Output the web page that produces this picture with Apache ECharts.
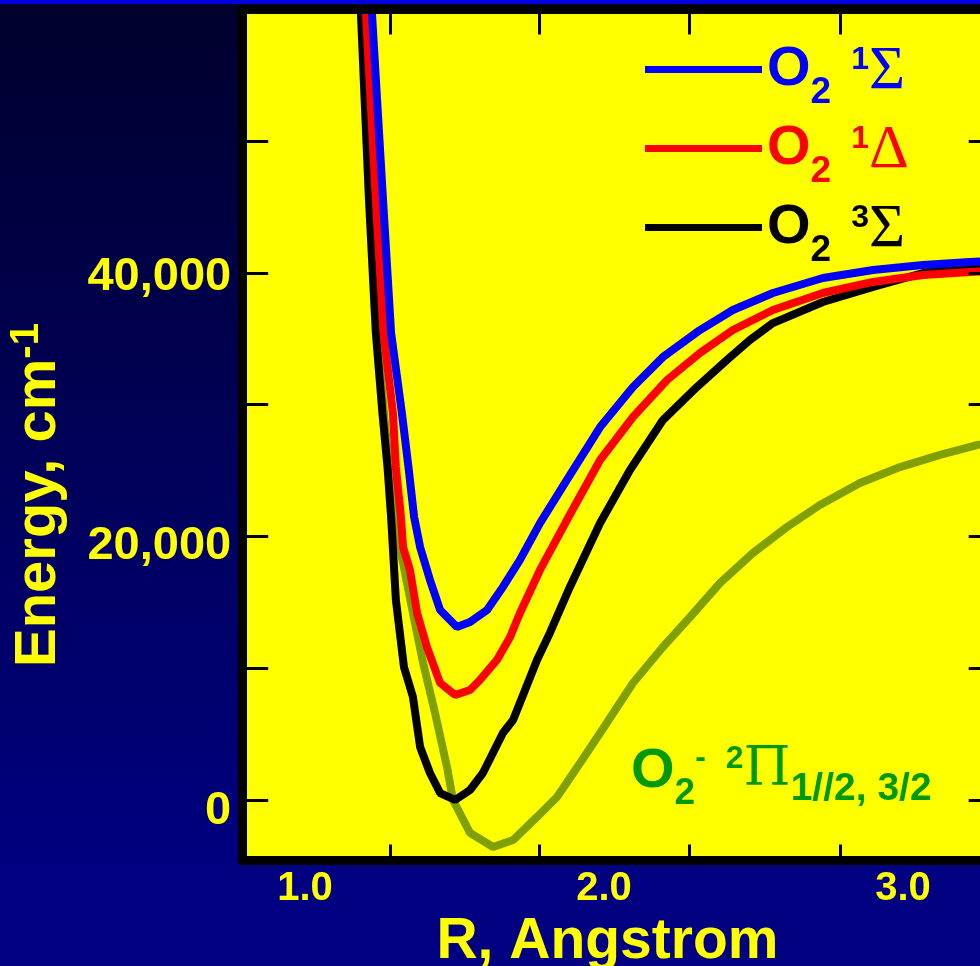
<!DOCTYPE html>
<html><head><meta charset="utf-8">
<script src="https://cdn.jsdelivr.net/npm/echarts@6/dist/echarts.min.js"></script>
<style>html,body{margin:0;padding:0;background:#000050;}#c{width:980px;height:966px;}</style>
</head><body><div id="c"></div>
<script>
const R_SIGMA1 = [1.219,1.224,1.261,1.288,1.324,1.346,1.365,1.385,1.418,1.452,1.508,1.552,1.609,1.662,1.719,1.786,1.876,1.987,2.097,2.197,2.321,2.431,2.565,2.732,2.900,3.067,3.224,3.300];
const E_SIGMA1 = [62000,59700,45540,35450,29370,25270,21480,19200,16700,14420,13130,13510,14420,16170,18220,21020,24290,28310,31350,33620,35670,37190,38480,39620,40230,40610,40830,40910];

const R_DELTA1 = [1.199,1.204,1.237,1.263,1.294,1.304,1.321,1.328,1.351,1.375,1.408,1.452,1.502,1.552,1.585,1.642,1.686,1.719,1.786,1.876,1.987,2.097,2.211,2.321,2.431,2.565,2.732,2.900,3.067,3.224,3.300];
const E_DELTA1 = [62000,59700,45540,35450,29370,25270,21480,19200,17460,14190,11610,8880,7970,8350,9110,10630,12370,14190,17460,21250,25810,29070,31880,33930,35670,37190,38480,39320,39850,40080,40150];

const R_SIGMA3 = [1.183,1.187,1.214,1.237,1.259,1.276,1.288,1.304,1.331,1.361,1.385,1.418,1.452,1.502,1.552,1.595,1.662,1.696,1.776,1.819,1.886,1.987,2.087,2.197,2.311,2.411,2.488,2.565,2.732,2.900,3.067,3.181,3.300];
const E_SIGMA3 = [62000,59700,45540,35450,29370,25270,21480,15180,10090,7820,4020,2050,530,0,760,2050,5090,6070,10630,12680,16170,21020,25050,28840,31350,33400,34910,36200,37800,38940,40000,40380,40550];

const R_ANION = [1.185,1.191,1.217,1.241,1.264,1.281,1.297,1.328,1.361,1.395,1.435,1.475,1.495,1.552,1.629,1.696,1.776,1.843,1.920,1.987,2.097,2.197,2.288,2.388,2.498,2.612,2.722,2.856,2.990,3.124,3.247,3.300];
const E_ANION = [62000,59700,45540,35450,29370,25270,21480,17990,14190,10400,6600,2500,0,-2500,-3570,-3040,-1290,230,2810,5090,8880,11610,13890,16470,18750,20720,22390,24060,25270,26190,26940,27170];

const X_LABELS = [1, 2, 3];
const X_TICKS = [1.285, 1.785, 2.285, 2.79];
const Y_LABELS = [0, 20000, 40000];
const Y_TICKS = [0, 10000, 20000, 30000, 40000, 50000];
const SERIES_NAMES = ['O2 1Σ', 'O2 1Δ', 'O2 3Σ', 'O2- 2Π'];

// ---- styling ----
const SANS = 'Liberation Sans, Arial, sans-serif';
const SERIF = 'Liberation Serif, Times New Roman, serif';
const WSERIF = 'DejaVu Serif, Liberation Serif, serif';
const YEL = '#FFFF00';
const COLORS = {'O2 1Σ':'#0000FF','O2 1Δ':'#FF0000','O2 3Σ':'#000000','O2- 2Π':'#80A000'};
const LABEL_GREEN = '#009900';

function pairs(xs, ys){ return xs.map((x,i)=>[x, ys[i]]); }

function legendRich(key, color){
  const r = {};
  r['o'+key]   = {color, fontFamily:SANS, fontWeight:'bold', fontSize:56, lineHeight:56};
  r['sub'+key] = {color, fontFamily:SANS, fontWeight:'bold', fontSize:37, lineHeight:37, padding:[46,0,0,0]};
  r['sup'+key] = {color, fontFamily:SANS, fontWeight:'bold', fontSize:32, lineHeight:32, padding:[0,0,18,0]};
  r['sym'+key] = {color, fontFamily:SERIF, fontWeight:'normal', fontSize:62, lineHeight:56, padding:[4,0,0,0]};
  r['sp'+key]  = {color, fontFamily:SANS, fontWeight:'bold', fontSize:56, lineHeight:56, width:20};
  return r;
}
const LEGEND_TEXT = {
  'O2 1Σ': '{oB|O}{subB|2}{spB| }{supB|1}{symB|Σ}',
  'O2 1Δ': '{oR|O}{subR|2}{spR| }{supR|1}{symR|Δ}',
  'O2 3Σ': '{oK|O}{subK|2}{spK| }{supK|3}{symK|Σ}'
};
const legendRichAll = Object.assign({}, legendRich('B','#0000FF'), legendRich('R','#FF0000'), legendRich('K','#000000'));

const yLabelRich = {
  y0:     {color:YEL, fontFamily:SANS, fontWeight:'bold', fontSize:47, padding:[22,0,0,0]},
  y20000: {color:YEL, fontFamily:SANS, fontWeight:'bold', fontSize:47, padding:[20,0,0,0]},
  y40000: {color:YEL, fontFamily:SANS, fontWeight:'bold', fontSize:47, padding:[8,0,0,0]}
};

const chart = echarts.init(document.getElementById('c'), null, {renderer:'canvas'});
const option = {
  animation: false,
  backgroundColor: {type:'linear', x:0, y:0, x2:0, y2:1, colorStops:[
    {offset:0, color:'#00002c'}, {offset:0.55, color:'#000060'}, {offset:0.9, color:'#000080'}, {offset:1, color:'#000080'}]},
  grid: {left:242.2, right:-12.7, top:9.5, bottom:105.4, show:true, backgroundColor:YEL, borderWidth:0,
    containLabel:false, outerBoundsMode:'none'},
  legend: {
    orient:'vertical', left:645, top:28, padding:0, itemGap:-4,
    icon:'rect', itemWidth:117, itemHeight:7, selectedMode:false,
    data: SERIES_NAMES.slice(0,3),
    formatter: n => LEGEND_TEXT[n],
    textStyle: {rich: legendRichAll}
  },
  xAxis: [{
    type:'value', position:'bottom', min:0.79, max:3.3, z:5,
    axisLine:{show:true, onZero:false, lineStyle:{color:'#000', width:9}},
    axisTick:{show:true, inside:true, length:16, customValues:X_TICKS, lineStyle:{color:'#000', width:3}},
    axisLabel:{show:true, customValues:X_LABELS, margin:8, color:YEL, fontFamily:SANS, fontWeight:'bold', fontSize:40,
      formatter: v => v.toFixed(1)},
    splitLine:{show:false},
    name:'R, Angstrom', nameLocation:'middle', nameGap:41,
    nameTextStyle:{color:YEL, fontFamily:SANS, fontWeight:'bold', fontSize:57, lineHeight:57, padding:[0,20,0,0]}
  },{
    type:'value', position:'top', min:0.79, max:3.3, z:5,
    axisLine:{show:true, onZero:false, lineStyle:{color:'#000', width:9}},
    axisTick:{show:true, inside:true, length:25, customValues:X_TICKS, lineStyle:{color:'#000', width:3}},
    axisLabel:{show:false}, splitLine:{show:false}
  }],
  yAxis: [{
    type:'value', position:'left', min:-4600, max:60000, z:5,
    axisLine:{show:true, onZero:false, lineStyle:{color:'#000', width:9}},
    axisTick:{show:true, inside:true, length:26, customValues:Y_TICKS, lineStyle:{color:'#000', width:3}},
    axisLabel:{show:true, customValues:Y_LABELS, margin:11,
      formatter: v => '{y'+v+'|'+v.toLocaleString('en-US')+'}', rich:yLabelRich},
    splitLine:{show:false},
    name:'Energy, cm{sup|-1}', nameLocation:'middle', nameRotate:90, nameGap:174,
    nameTextStyle:{color:YEL, fontFamily:SANS, fontWeight:'bold', fontSize:58, lineHeight:58, padding:[0,120,0,0],
      rich:{sup:{color:YEL, fontFamily:SANS, fontWeight:'bold', fontSize:40, lineHeight:10, padding:[0,0,24,0]}}}
  },{
    type:'value', position:'right', min:-4600, max:60000, z:5,
    axisLine:{show:true, onZero:false, lineStyle:{color:'#000', width:9}},
    axisTick:{show:true, inside:true, length:24, customValues:Y_TICKS, lineStyle:{color:'#000', width:3}},
    axisLabel:{show:false}, splitLine:{show:false}
  }],
  series: [
    {name:'O2- 2Π', type:'line', data:pairs(R_ANION, E_ANION), showSymbol:false, clip:true, lineStyle:{color:COLORS['O2- 2Π'], width:8}, itemStyle:{color:COLORS['O2- 2Π']}},
    {name:'O2 3Σ', type:'line', data:pairs(R_SIGMA3, E_SIGMA3), showSymbol:false, clip:true, lineStyle:{color:COLORS['O2 3Σ'], width:8}, itemStyle:{color:COLORS['O2 3Σ']}},
    {name:'O2 1Δ', type:'line', data:pairs(R_DELTA1, E_DELTA1), showSymbol:false, clip:true, lineStyle:{color:COLORS['O2 1Δ'], width:8}, itemStyle:{color:COLORS['O2 1Δ']}},
    {name:'O2 1Σ', type:'line', data:pairs(R_SIGMA1, E_SIGMA1), showSymbol:false, clip:true, lineStyle:{color:COLORS['O2 1Σ'], width:8}, itemStyle:{color:COLORS['O2 1Σ']}}
  ],
  graphic: [
    {type:'rect', z:100, shape:{x:0, y:0, width:980, height:4}, style:{fill:'#0000DD'}},
    {type:'text', z:50, x:631, y:772, style:{
      text:'{o|O}{sub|2}{sm|-}{gap| }{sp|2}{pi|Π}{sb|1//2, 3/2}',
      align:'left', verticalAlign:'middle',
      rich:{
        o:{fill:LABEL_GREEN, fontFamily:SANS, fontWeight:'bold', fontSize:56, lineHeight:56},
        gap:{fill:LABEL_GREEN, fontFamily:SANS, fontWeight:'bold', fontSize:56, lineHeight:56, width:20},
        sub:{fill:LABEL_GREEN, fontFamily:SANS, fontWeight:'bold', fontSize:37, lineHeight:37, padding:[43,0,0,0]},
        sm:{fill:LABEL_GREEN, fontFamily:SANS, fontWeight:'bold', fontSize:32, lineHeight:32, padding:[0,0,28,0]},
        sp:{fill:LABEL_GREEN, fontFamily:SANS, fontWeight:'bold', fontSize:32, lineHeight:32, padding:[0,0,25,0]},
        pi:{fill:LABEL_GREEN, fontFamily:WSERIF, fontWeight:'normal', fontSize:54, lineHeight:54, padding:[0,0,2,0]},
        sb:{fill:LABEL_GREEN, fontFamily:SANS, fontWeight:'bold', fontSize:39, lineHeight:39, padding:[35,0,0,0]}
      }
    }}
  ]
};
chart.setOption(option);
</script>
</body></html>
